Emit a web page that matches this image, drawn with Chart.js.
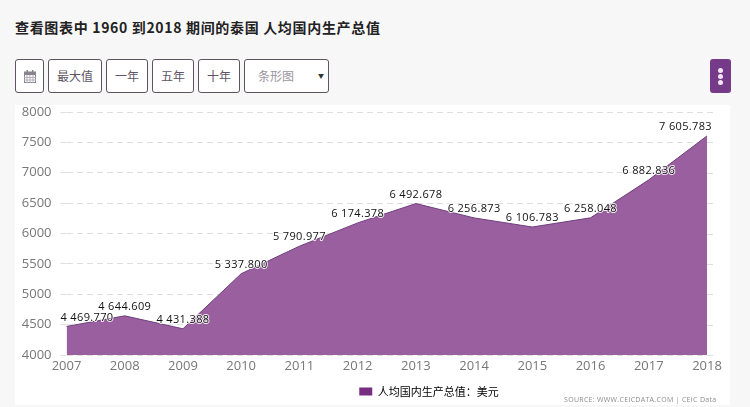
<!DOCTYPE html>
<html>
<head>
<meta charset="utf-8">
<script src="https://cdn.jsdelivr.net/npm/chart.js@4/dist/chart.umd.min.js"></script>
<style>
    html, body { margin: 0; padding: 0; }
    body { width: 750px; height: 407px; background: #f8f7f8; position: relative; overflow: hidden;
        font-family: "Noto Sans CJK SC", "Open Sans", sans-serif; }
    h1 { position: absolute; left: 15px; top: 17px; margin: 0; font-size: 14px; line-height: 20px; font-weight: 700;
        color: #222; letter-spacing: 0.67px; white-space: nowrap; }
    .btn { position: absolute; top: 59px; height: 32px; line-height: 32px; border: 1px solid #5c5560; border-radius: 3px;
        background: #fff; color: #5f5565; font-size: 12px; text-align: center; box-sizing: content-box; }
    .more { position: absolute; left: 710px; top: 59px; width: 21px; height: 34px; border-radius: 3px; background: #753a88; }
    .more i { position: absolute; left: 8px; width: 5px; height: 5px; border-radius: 50%; background: #f3e6f5; }
    #wrap { position: absolute; left: 15px; top: 105px; width: 715px; height: 300px; background: #fff; }
    #wrap canvas { display: block; }
    #source { position: absolute; left: 564px; top: 395px; font: 7px "Open Sans", sans-serif; color: #8c8c8c;
        letter-spacing: 0.3px; white-space: nowrap; }
</style>
</head>
<body>
<h1>查看图表中 1960 到2018 期间的泰国 人均国内生产总值</h1>
<div class="btn" style="left:15px;width:27px">
    <svg width="12" height="13" viewBox="0 0 12 13" style="margin-top:10px">
        <rect x="0.5" y="2" width="11" height="10.5" fill="none" stroke="#8a848e"/>
        <rect x="0.5" y="2" width="11" height="3" fill="#8a848e"/>
        <rect x="2.5" y="0" width="1.5" height="3" fill="#8a848e"/>
        <rect x="8" y="0" width="1.5" height="3" fill="#8a848e"/>
        <path d="M0 7.5h12M0 10h12M3 5v8M6 5v8M9 5v8" stroke="#b4afb8" stroke-width="1"/>
    </svg>
</div>
<div class="btn" style="left:48px;width:52px">最大值</div>
<div class="btn" style="left:106px;width:40px">一年</div>
<div class="btn" style="left:152px;width:40px">五年</div>
<div class="btn" style="left:198px;width:40px">十年</div>
<div class="btn" style="left:244px;width:83px">
    <span style="position:absolute;left:13px;color:#9a949e">条形图</span>
    <span style="position:absolute;left:73px;font-size:6px;color:#333">▼</span>
</div>
<div class="more"><i style="top:9px"></i><i style="top:15px"></i><i style="top:21px"></i></div>
<div id="wrap"><canvas id="gdpChart" width="715" height="300"></canvas></div>
<div id="source">SOURCE: WWW.CEICDATA.COM | CEIC Data</div>

<script>
const years = ['2007', '2008', '2009', '2010', '2011', '2012', '2013', '2014', '2015', '2016', '2017', '2018'];
const gdpValues = [4469.77, 4644.609, 4431.388, 5337.8, 5790.977, 6174.378, 6492.678, 6256.873, 6106.783, 6258.048, 6882.836, 7605.783];
const gdpLabels = ['4 469.770', '4 644.609', '4 431.388', '5 337.800', '5 790.977', '6 174.378', '6 492.678', '6 256.873', '6 106.783', '6 258.048', '6 882.836', '7 605.783'];
const seriesName = '人均国内生产总值：美元';

// Draws the value above each point, kept inside the plot like the original
const valueLabels = {
    id: 'valueLabels',
    afterDatasetsDraw(chart) {
        const ctx = chart.ctx;
        const points = chart.getDatasetMeta(0).data;
        ctx.save();
        ctx.font = '11px "Open Sans", sans-serif';
        ctx.letterSpacing = '0.35px';
        ctx.textAlign = 'center';
        ctx.textBaseline = 'middle';
        ctx.lineJoin = 'round';
        points.forEach((pt, i) => {
            const half = ctx.measureText(gdpLabels[i]).width / 2;
            const x = Math.min(Math.max(pt.x, chart.chartArea.left - 6 + half), chart.chartArea.right + 5 - half);
            const y = pt.y - 9;
            ctx.strokeStyle = 'rgba(255,255,255,0.85)';
            ctx.lineWidth = 2;
            ctx.strokeText(gdpLabels[i], x, y);
            ctx.fillStyle = '#111';
            ctx.fillText(gdpLabels[i], x, y);
        });
        ctx.restore();
    }
};

// The legend sits right of the chart centre in the original
const shiftLegend = {
    id: 'shiftLegend',
    afterLayout(chart) {
        chart.legend.left += 68;
        chart.legend.right += 68;
        chart.legend.top += 2;
        chart.legend.bottom += 2;
    }
};

// Grid lines run a little past the right edge of the plot
const extendGrid = {
    id: 'extendGrid',
    beforeDatasetsDraw(chart) {
        const ctx = chart.ctx;
        const yScale = chart.scales.y;
        ctx.save();
        ctx.strokeStyle = '#dedede';
        ctx.setLineDash([6, 4]);
        yScale.ticks.forEach(t => {
            const y = Math.round(yScale.getPixelForValue(t.value)) + 0.5;
            ctx.beginPath();
            ctx.moveTo(chart.chartArea.right, y);
            ctx.lineTo(chart.chartArea.right + 6, y);
            ctx.stroke();
        });
        ctx.restore();
    }
};

new Chart(document.getElementById('gdpChart').getContext('2d'), {
    type: 'line',
    data: {
        labels: years,
        datasets: [{
            label: seriesName,
            data: gdpValues,
            fill: true,
            tension: 0,
            borderColor: '#6f3f7d',
            borderWidth: 1,
            backgroundColor: '#9a5f9f',
            pointRadius: 0
        }]
    },
    options: {
        responsive: false,
        animation: false,
        layout: { padding: { top: 0, right: 23, bottom: 0, left: 0 } },
        plugins: {
            tooltip: { enabled: false },
            legend: {
                position: 'bottom',
                labels: {
                    boxWidth: 13,
                    boxHeight: 8,
                    padding: 7,
                    color: '#555',
                    font: { size: 11, family: '"Noto Sans CJK SC", sans-serif' },
                    generateLabels: () => [{ text: seriesName, fillStyle: '#752e80', strokeStyle: '#752e80', lineWidth: 0, datasetIndex: 0 }]
                }
            }
        },
        scales: {
            x: {
                offset: false,
                grid: { display: false, drawTicks: false },
                border: { display: false },
                ticks: { color: '#777', maxRotation: 0, autoSkip: false, padding: 3, font: { size: 13, family: '"Open Sans", sans-serif' } },
                afterFit(scale) { scale.height = 22; }
            },
            y: {
                min: 4000,
                max: 8000,
                afterFit(scale) {
                    // tick padding would otherwise push the plot away from the top edge
                    scale.width = 51.5;
                    scale.paddingTop = 7;
                    scale.paddingBottom = 0;
                },
                grid: { color: '#dedede', tickLength: 6, tickBorderDash: [6, 4] },
                border: { display: false, dash: [6, 4] },
                ticks: { stepSize: 500, color: '#777', padding: 9, font: { size: 13, family: '"Open Sans", sans-serif' }, callback: v => String(v) }
            }
        }
    },
    plugins: [valueLabels, shiftLegend, extendGrid]
});
</script>
</body>
</html>
